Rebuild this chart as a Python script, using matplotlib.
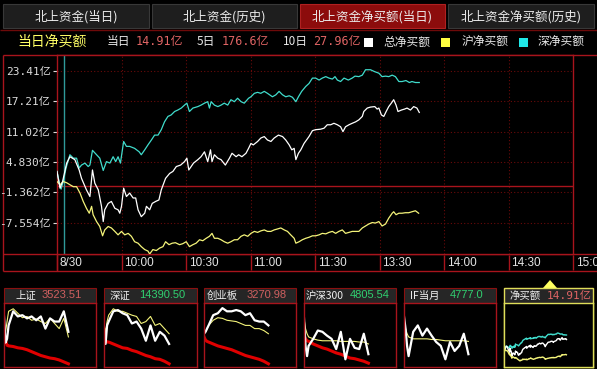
import matplotlib
matplotlib.use("Agg")
import matplotlib.pyplot as plt
from matplotlib.patches import Rectangle, Polygon

plt.rcParams['font.family'] = ['Noto Sans CJK SC', 'DejaVu Sans']
MONO = ['DejaVu Sans Mono', 'Noto Sans CJK SC']
SANS = ['Liberation Sans', 'Noto Sans CJK SC']

W, H = 597, 369
RED = '#a8141c'
GRID = '#6a0a0a'

# 北向资金分时净买额 (亿元)，横轴为开盘后的交易分钟
zong_t = [0, 1.4, 2.6, 4.5, 6.0, 8.3, 10.3, 11.4, 13.7, 15.3,
          16.5, 17.6, 19.2, 20.7, 21.5, 22.2, 23.8, 25.3, 26.9, 28.4,
          29.2, 30.0, 31.0, 32.3, 33.8, 35.4, 36.6, 37.7, 39.2, 40.8,
          41.6, 43.1, 44.3, 45.9, 47.4, 48.5, 50.5, 52.4, 53.9, 55.5,
          57.5, 59.3, 60.4, 61.3, 62.4, 63.5, 65.5, 67.0, 68.6, 70.1,
          71.4, 72.1, 73.2, 74.8, 76.3, 78.3, 80.2, 81.4, 83.3, 84.5,
          86.0, 87.9, 89.1, 90.2, 91.3, 93.3, 94.8, 96.4, 97.9, 99.5,
          101.0, 103.0, 104.9, 106.4, 108.0, 109.2, 110.3, 111.1, 112.3, 113.4,
          114.9, 117.2, 118.8, 120.3, 122.6, 124.2, 125.7, 127.3, 128.8, 130.4,
          131.9, 133.0, 134.2, 135.8, 137.3, 138.9, 140.4, 142.0, 142.7, 144.3,
          145.8, 147.8, 148.9, 149.7, 150.9, 152.0, 153.1, 154.3, 155.5, 156.6,
          157.7, 158.6, 160.2, 161.7, 162.8, 164.4, 165.9, 167.4, 168.5]
zong_v = [2.9, -0.5, 0.85, 4.6, 5.9, 5.3, 3.2, 1.5, -0.85, -2.2,
          3.2, 0.5, -0.85, -4.2, -7.3, -4.9, -3.6, -3.2, -4.6, -4.9,
          -5.6, -4.2, -0.5, -2.2, -1.5, -2.5, -2.5, -4.9, -6.3, -5.6,
          -4.2, -4.9, -3.6, -3.2, -2.9, -0.85, 1.5, 2.5, 2.9, 3.9,
          4.2, 4.9, 5.6, 3.2, 3.9, 4.6, 5.3, 5.9, 6.9, 4.9,
          7.3, 4.9, 6.3, 5.6, 5.3, 4.2, 5.6, 6.6, 5.9, 6.3,
          5.9, 6.6, 7.6, 8.6, 8.3, 9.0, 9.7, 10.0, 9.3, 9.0,
          9.7, 10.3, 10.0, 9.3, 8.3, 7.3, 7.6, 5.3, 6.6, 7.3,
          8.6, 10.0, 11.2, 11.4, 11.5, 11.7, 12.4, 12.4, 12.7, 12.4,
          12.0, 11.0, 12.0, 12.4, 12.7, 13.0, 13.4, 14.1, 15.1, 15.8,
          16.0, 16.1, 15.6, 15.8, 14.4, 14.1, 15.1, 16.1, 16.8, 17.5,
          16.4, 15.1, 15.4, 15.6, 15.8, 15.4, 16.1, 15.8, 14.91]

shen_t = [0, 1.1, 1.9, 2.9, 4.2, 6.0, 7.6, 9.1, 10.3, 11.4,
          13.0, 14.5, 15.3, 16.5, 18.4, 19.9, 21.5, 23.0, 24.6, 26.1,
          27.3, 28.4, 29.5, 31.0, 32.3, 33.8, 36.1, 38.2, 39.2, 40.8,
          42.3, 43.9, 45.4, 47.0, 48.5, 50.0, 51.6, 53.1, 54.7, 56.2,
          57.8, 59.3, 60.4, 61.6, 63.2, 65.5, 67.0, 68.6, 70.1, 70.9,
          71.7, 73.2, 74.8, 76.3, 77.8, 79.4, 80.9, 82.5, 84.0, 85.6,
          87.1, 89.1, 90.2, 91.8, 93.3, 94.8, 96.4, 97.9, 100.2, 101.8,
          103.3, 104.9, 106.4, 108.0, 109.5, 111.1, 112.3, 113.8, 115.7, 117.2,
          118.8, 120.3, 121.9, 123.4, 125.0, 126.5, 128.1, 129.3, 130.4, 131.9,
          133.5, 135.5, 137.3, 138.6, 140.4, 142.0, 143.5, 145.8, 147.8, 149.7,
          151.2, 152.8, 154.3, 155.9, 157.4, 159.0, 160.5, 162.3, 163.9, 165.1,
          166.7, 168.5]
shen_v = [2.9, 0.5, -0.7, 0.85, 3.6, 6.3, 5.6, 5.6, 3.6, 4.2,
          4.6, 3.9, 4.2, 7.2, 6.3, 5.6, 3.1, 4.9, 4.6, 5.9,
          4.9, 5.9, 4.6, 9.0, 8.0, 8.0, 7.6, 6.9, 6.3, 7.3,
          8.3, 9.3, 10.3, 10.3, 11.4, 13.0, 14.1, 14.4, 15.1, 15.4,
          15.8, 16.4, 16.8, 15.1, 15.8, 16.1, 16.4, 16.8, 17.1, 15.8,
          17.1, 16.4, 16.1, 16.4, 16.8, 16.4, 17.5, 17.1, 17.8, 17.1,
          16.8, 17.8, 18.1, 18.8, 19.0, 18.8, 19.2, 18.8, 18.1, 18.5,
          19.2, 18.5, 18.1, 18.3, 18.0, 17.1, 18.1, 19.2, 20.2, 20.8,
          21.9, 21.9, 21.5, 21.9, 22.2, 21.9, 21.7, 22.2, 21.5, 21.2,
          21.9, 21.5, 21.9, 22.3, 22.2, 22.5, 23.6, 23.6, 23.2, 22.9,
          22.2, 22.3, 22.2, 22.5, 22.2, 21.2, 21.2, 21.4, 21.0, 21.2,
          21.0, 21.0]

hu_t = [0, 1.4, 2.9, 4.5, 6.0, 7.6, 9.1, 10.7, 12.2, 13.7,
        15.0, 16.1, 16.8, 18.4, 19.9, 21.2, 22.2, 23.8, 25.3, 26.9,
        28.4, 30.0, 31.5, 33.1, 34.6, 36.1, 37.7, 39.2, 40.8, 42.3,
        43.1, 44.6, 46.2, 47.7, 49.3, 50.5, 52.1, 53.6, 55.1, 57.0,
        58.5, 60.1, 61.6, 63.2, 64.7, 66.3, 67.8, 69.4, 70.9, 72.1,
        73.2, 74.8, 76.3, 77.8, 79.4, 80.9, 82.5, 84.0, 85.6, 87.1,
        88.7, 90.2, 91.8, 93.3, 94.8, 96.4, 97.9, 99.5, 101.0, 102.6,
        104.1, 105.7, 107.2, 108.7, 110.3, 111.1, 112.6, 114.1, 115.7, 117.2,
        118.8, 120.3, 121.9, 123.4, 125.0, 126.5, 128.1, 129.6, 131.1, 132.7,
        134.2, 135.8, 137.3, 138.9, 140.4, 142.0, 143.5, 145.0, 146.6, 148.1,
        149.7, 151.2, 152.8, 154.3, 155.9, 156.6, 157.7, 159.0, 160.5, 162.0,
        163.6, 165.1, 166.7, 168.2]
hu_v = [0.85, 0.2, 0.85, 0.6, 0.2, -0.2, -0.2, -1.5, -3.2, -4.6,
        -5.6, -4.2, -5.9, -7.3, -8.3, -10.2, -9.0, -8.3, -8.6, -9.3,
        -10.0, -9.3, -10.0, -9.7, -10.3, -11.4, -11.7, -12.4, -13.0, -13.3,
        -13.9, -13.0, -13.2, -12.7, -12.4, -11.4, -12.0, -11.7, -11.6, -12.0,
        -11.8, -11.4, -12.4, -12.0, -11.7, -11.0, -11.2, -10.7, -10.3, -9.7,
        -10.7, -10.7, -11.0, -11.4, -11.7, -11.4, -11.0, -11.0, -10.3, -10.0,
        -10.3, -9.7, -9.3, -9.5, -9.2, -9.0, -9.3, -9.3, -9.0, -8.8,
        -8.6, -9.0, -9.3, -10.0, -10.7, -11.7, -11.4, -11.0, -10.7, -10.5,
        -10.2, -10.2, -10.0, -9.7, -9.8, -9.5, -9.3, -9.7, -9.3, -9.0,
        -9.7, -9.5, -9.3, -9.3, -9.3, -8.6, -8.2, -7.8, -7.5, -7.6,
        -7.3, -8.2, -7.8, -6.6, -5.6, -5.3, -5.9, -5.6, -5.6, -5.5,
        -5.5, -5.3, -5.1, -5.6]

net_5d = 176.6
net_10d = 27.96
cursor_minute = 3.2

time_ticks = [0, 30, 60, 90, 120, 150, 180, 210, 240]
time_labels = ['8/30', '10:00', '10:30', '11:00', '11:30', '13:30', '14:00', '14:30', '15:00']
y_ticks = [23.41, 17.21, 11.02, 4.830, -1.362, -7.554]
y_labels = ['23.41亿', '17.21亿', '11.02亿', '4.830亿', '-1.362亿', '-7.554亿']

tabs = ['北上资金(当日)', '北上资金(历史)', '北上资金净买额(当日)', '北上资金净买额(历史)']

# 底部小图: 指数走势(白)、均价(黄)、资金(红)，纵轴为框内相对高度 0-100
mini_t = [0, 4, 8, 12, 24, 36, 48, 60, 72, 84, 96, 108, 120, 132, 144, 156, 168]
sh_white = [79, 38, 44, 65, 87, 79, 81, 76, 79, 73, 79, 60, 76, 71, 71, 87, 55]
sh_yellow = [60, 55, 71, 87, 91, 84, 77, 79, 73, 75, 71, 68, 76, 68, 60, 76, 47]
sh_red = [49, 41, 34, 33, 32, 30, 29, 27, 24, 21, 18, 16, 14, 13, 11, 8, 5]
sz_white = [60, 36, 65, 71, 87, 89, 84, 81, 68, 71, 60, 41, 65, 41, 55, 49, 36]
sz_yellow = [65, 55, 71, 81, 91, 87, 87, 84, 81, 79, 68, 71, 79, 65, 68, 60, 52]
sz_red = [47, 41, 39, 39, 36, 33, 30, 29, 26, 24, 21, 18, 16, 13, 12, 9, 5]
cyb_white = [52, 55, 60, 65, 81, 84, 92, 87, 87, 89, 87, 81, 84, 73, 71, 71, 65]
cyb_yellow = [52, 55, 60, 65, 73, 77, 76, 73, 72, 71, 68, 65, 65, 60, 60, 57, 52]
cyb_red = [47, 42, 40, 39, 36, 33, 31, 29, 27, 24, 21, 18, 16, 14, 12, 9, 5]
hs_white = [76, 33, 17, 33, 44, 57, 55, 49, 44, 28, 55, 12, 44, 30, 28, 52, 20]
hs_yellow = [76, 60, 52, 47, 44, 42, 41, 41, 41, 41, 40, 40, 40, 40, 39, 39, 36]
hs_red = [49, 44, 41, 40, 36, 33, 30, 28, 25, 22, 20, 17, 14, 13, 11, 9, 6]
if_white = [79, 60, 33, 17, 55, 65, 49, 60, 49, 39, 33, 12, 39, 25, 33, 52, 20]
if_yellow = [71, 60, 52, 47, 44, 44, 44, 44, 43, 43, 42, 41, 41, 41, 41, 41, 40]

mini_names = ['上证', '深证', '创业板', '沪深300', 'IF当月']
mini_quotes = ['3523.51', '14390.50', '3270.98', '4805.54', '4777.0']
mini_quote_colors = ['#d06060', '#30d070', '#d06060', '#30d070', '#30d070']

fig = plt.figure(figsize=(W / 100, H / 100), dpi=100, facecolor='black')

# 背景层用像素坐标画框线和文字
bg = fig.add_axes([0, 0, 1, 1])
bg.set_xlim(0, W)
bg.set_ylim(H, 0)
bg.axis('off')


def px_axes(x0, y0, x1, y1):
    return fig.add_axes([x0 / W, 1 - y1 / H, (x1 - x0) / W, (y1 - y0) / H])


# 顶部标签页
tab_x = [(3, 149), (152, 297), (300, 445), (448, 594)]
for i, (x0, x1) in enumerate(tab_x):
    active = i == 2
    bg.add_patch(Rectangle((x0, 4), x1 - x0, 24,
                           facecolor='#8c0c0c' if active else '#1e1e1e',
                           edgecolor='#b02020' if active else '#383838', lw=0.8))
    bg.text((x0 + x1) / 2, 16.5, tabs[i], color='#ececec', fontsize=9,
            ha='center', va='center')
bg.hlines(29.5, 0, W, color='#6e0a0a', lw=1)

# 图例行
day_net = zong_v[-1]
bg.text(17, 42, '当日净买额', color='#ffff66', fontsize=10, va='center')
legend_bits = [
    (107, '当日', '#e8e8e8', None),
    (136, f'{day_net:.2f}亿', '#e06464', MONO),
    (197, '5日', '#e8e8e8', None),
    (222, f'{net_5d:.1f}亿', '#e06464', MONO),
    (283, '10日', '#e8e8e8', None),
    (313, f'{net_10d:.2f}亿', '#e06464', MONO),
    (383, '总净买额', '#e8e8e8', None),
    (462, '沪净买额', '#e8e8e8', None),
    (538, '深净买额', '#e8e8e8', None),
]
for x, s, c, fam in legend_bits:
    kw = {'family': fam} if fam else {}
    bg.text(x, 42, s, color=c, fontsize=8.5, va='center', **kw)
for x, c in [(364, '#ffffff'), (441, '#ffff40'), (519, '#20e8e8')]:
    bg.add_patch(Rectangle((x, 38), 9, 9, facecolor=c, edgecolor='none'))

# 主图外框
bg.hlines([55, 254, 271], 2.5, W, color=RED, lw=1)
bg.vlines(2.5, 55, 271, color=RED, lw=1)
bg.vlines(57, 254, 271, color=RED, lw=1)

ax = px_axes(57, 55, 573, 254)
ax.set_facecolor('black')
ax.set_xlim(0, 240)
ax.set_ylim(-13.9, 26.6)
for s in ax.spines.values():
    s.set_color(RED)
    s.set_linewidth(1)
ax.tick_params(axis='x', bottom=False, labelbottom=False)
ax.set_yticks(y_ticks)
ax.set_yticklabels(y_labels, family=MONO, fontsize=8)
ax.tick_params(axis='y', colors='#dcdcdc', length=3, width=0.8, pad=1.5)

for v in y_ticks:
    ax.axhline(v, color=GRID, lw=0.8, ls=(0, (1, 2)), zorder=1)
for t in time_ticks[1:-1]:
    ax.axvline(t, color=GRID, lw=0.8, ls=(0, (1, 2)), zorder=1)
ax.axhline(0, color=RED, lw=1, zorder=1)
ax.axvline(cursor_minute, color='#2f9a9a', lw=1, zorder=2)

ax.plot(shen_t, shen_v, color='#40dccc', lw=0.9, zorder=3)
ax.plot(zong_t, zong_v, color='#ffffff', lw=0.9, zorder=4)
ax.plot(hu_t, hu_v, color='#f4f47a', lw=0.9, zorder=3)

# 时间轴行
axr = px_axes(57, 254, 573, 271)
axr.sharex(ax)
axr.axis('off')
axr.vlines(time_ticks, 0, 1, color=RED, lw=1, clip_on=False)
for t, lab in zip(time_ticks, time_labels):
    axr.annotate(lab, xy=(t, 0.5), xytext=(2, 0), textcoords='offset points',
                 color='#e4e4e4', fontsize=8.5, family=SANS, va='center',
                 ha='left', annotation_clip=False)

# 底部小图
boxes = [(4, 96), (104, 197), (204, 296), (304, 396), (404, 496), (504, 593)]
name_x = [15, 110, 207, 306, 410, 510]
quote_x = [42, 139, 247, 350, 450, 547]
minis = [
    (sh_white, sh_yellow, sh_red),
    (sz_white, sz_yellow, sz_red),
    (cyb_white, cyb_yellow, cyb_red),
    (hs_white, hs_yellow, hs_red),
    (if_white, if_yellow, None),
]

for i, (x0, x1) in enumerate(boxes):
    last = i == 5
    edge = '#dede5a' if last else RED
    bg.add_patch(Rectangle((x0, 288), x1 - x0, 15, facecolor='#262626',
                           edgecolor='#8a1010', lw=0.8))
    axm = px_axes(x0, 303, x1, 367)
    axm.set_facecolor('black')
    axm.set_xticks([])
    axm.set_yticks([])
    for s in axm.spines.values():
        s.set_color(edge)
        s.set_linewidth(1)
    axm.set_xlim(0, 240)
    if last:
        bg.add_patch(Rectangle((x0, 288), x1 - x0, 79, facecolor='none',
                               edgecolor=edge, lw=1, zorder=5))
        axm.set_ylim(-22, 64)
        axm.plot(shen_t, shen_v, color='#40dccc', lw=1)
        axm.plot(zong_t, zong_v, color='#ffffff', lw=1)
        axm.plot(hu_t, hu_v, color='#f4f47a', lw=1)
        bg.text(name_x[i], 295.5, '净买额', color='#f0f0f0', fontsize=7.5, va='center')
        bg.text(quote_x[i], 295.5, f'{day_net:.2f}亿', color='#e06464', fontsize=8,
                family=MONO, va='center')
        bg.add_patch(Polygon([(543, 288), (557, 288), (550, 280)], closed=True,
                             facecolor='#ffff60', edgecolor='none'))
    else:
        white, yellow, red = minis[i]
        axm.set_ylim(0, 100)
        if red is not None:
            axm.plot(mini_t, red, color='#e00000', lw=2.2)
        axm.plot(mini_t, yellow, color='#f4f47a', lw=0.8)
        axm.plot(mini_t, white, color='#ffffff', lw=1.6)
        bg.text(name_x[i], 295.5, mini_names[i], color='#f0f0f0', fontsize=7.5,
                va='center')
        bg.text(quote_x[i], 295.5, mini_quotes[i], color=mini_quote_colors[i],
                fontsize=8, family=SANS, va='center')

fig.savefig('out.png', dpi=100, facecolor='black')
